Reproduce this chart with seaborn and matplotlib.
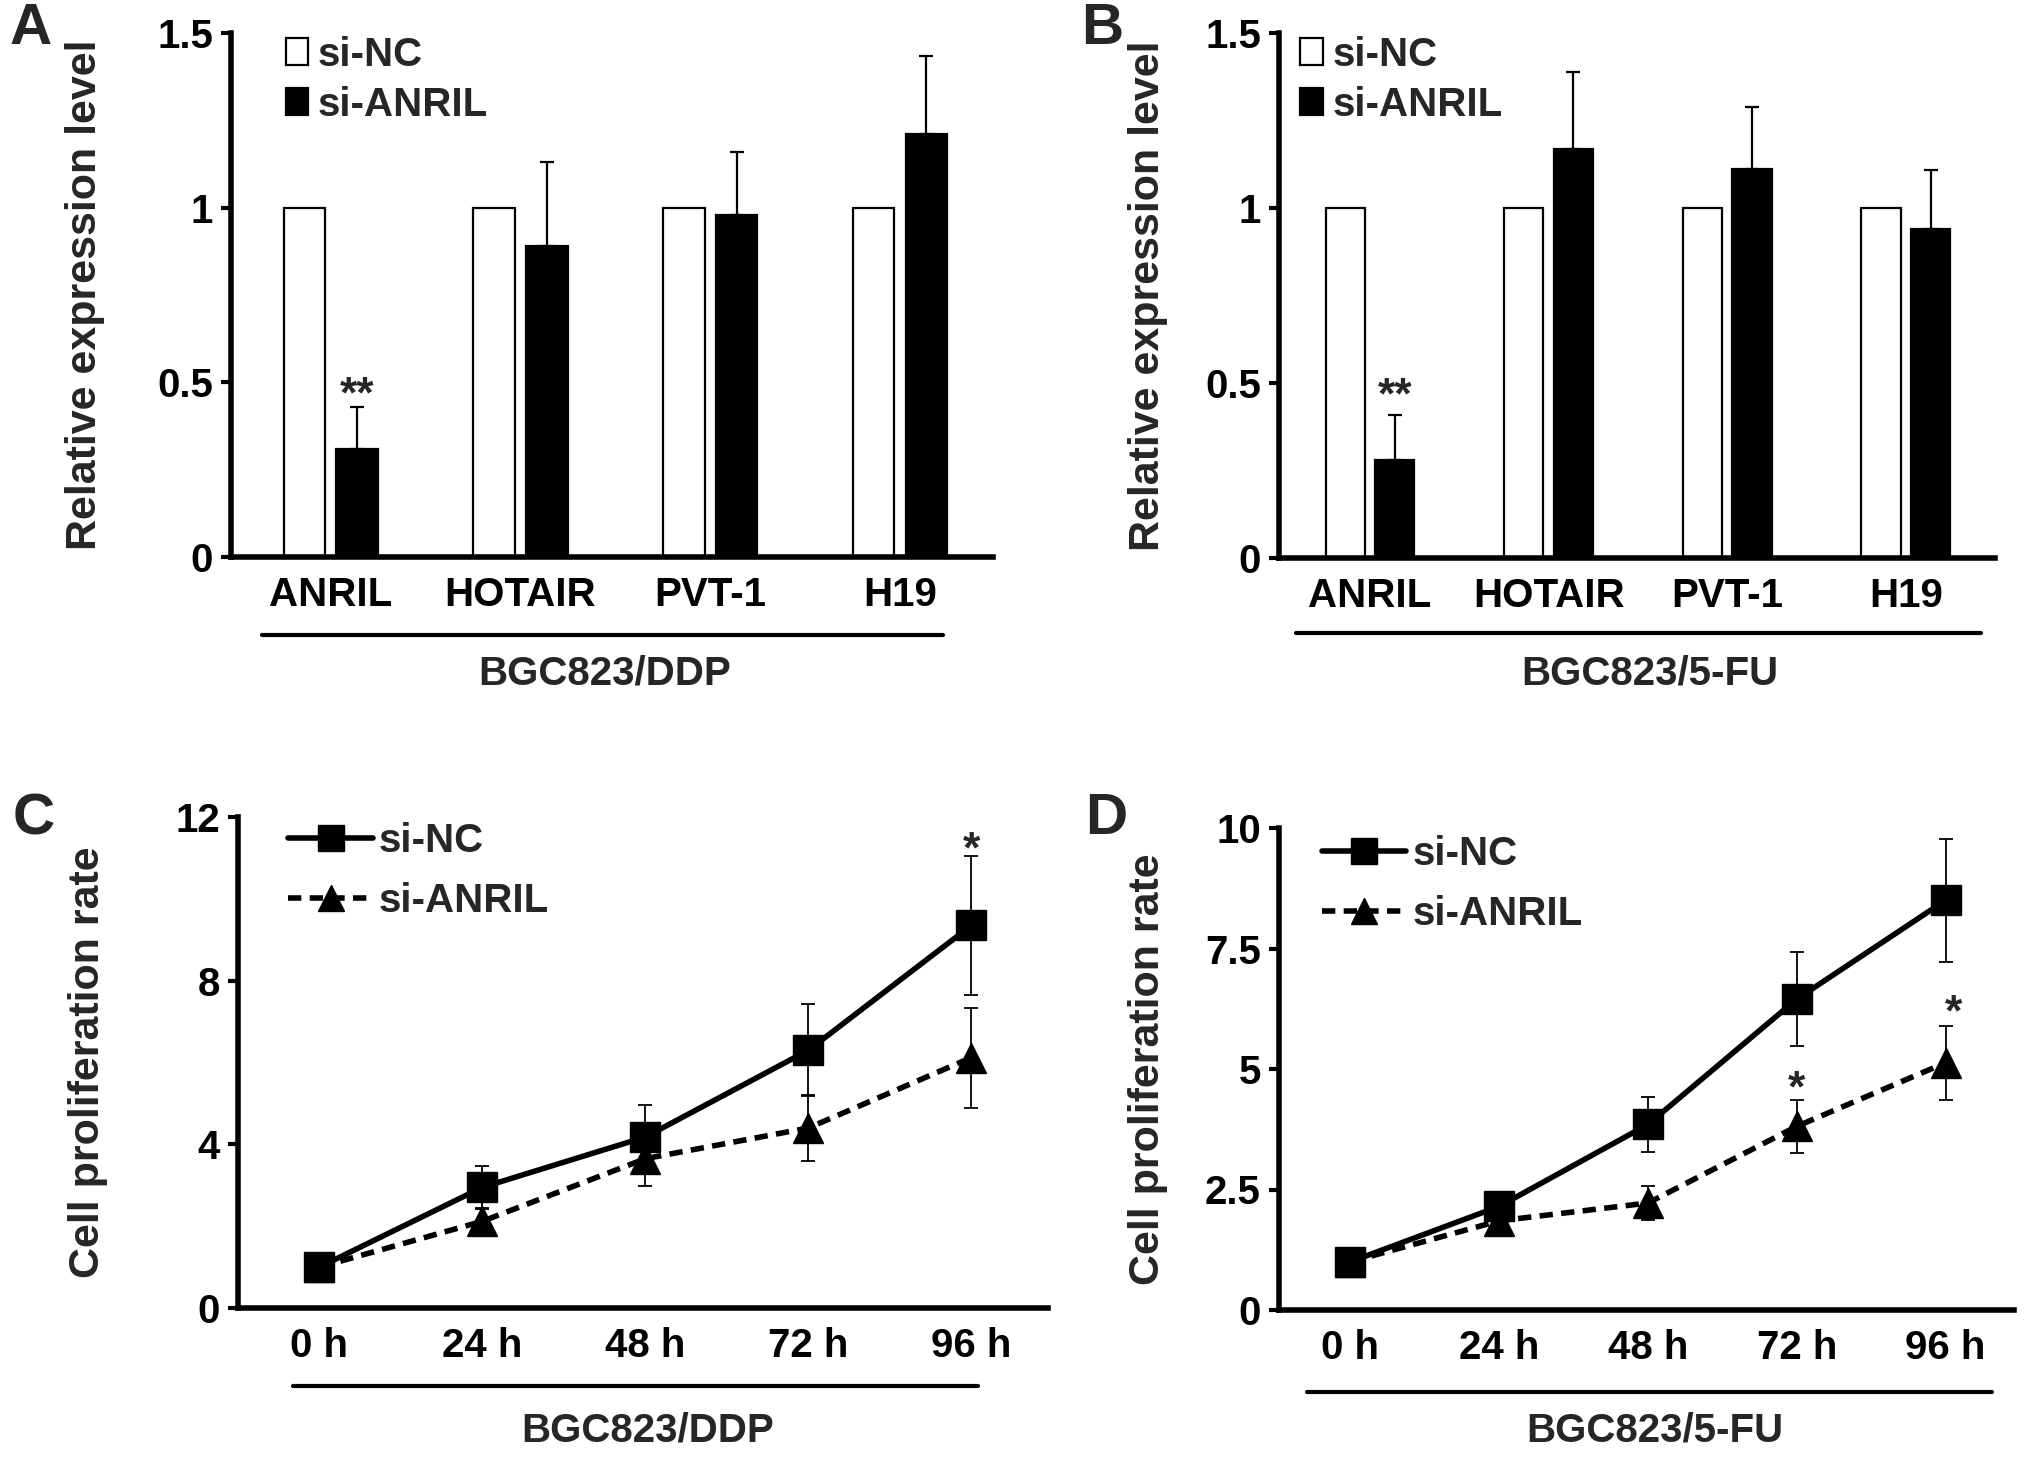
import numpy as np
import pandas as pd
import matplotlib
matplotlib.use("Agg")
import matplotlib.pyplot as plt
import matplotlib.patches as mpatches
from matplotlib.lines import Line2D
import seaborn as sns

# ---------------- data ----------------
genes = ["ANRIL", "HOTAIR", "PVT-1", "H19"]
groups = ["si-NC", "si-ANRIL"]

a_nc = [1.0, 1.0, 1.0, 1.0]
a_si = [0.31, 0.89, 0.98, 1.21]
a_si_err = [0.12, 0.24, 0.18, 0.225]

b_nc = [1.0, 1.0, 1.0, 1.0]
b_si = [0.28, 1.17, 1.11, 0.94]
b_si_err = [0.13, 0.22, 0.18, 0.17]

times = ["0 h", "24 h", "48 h", "72 h", "96 h"]
c_nc = [1.0, 2.95, 4.18, 6.3, 9.35]
c_nc_err = [0.0, 0.52, 0.78, 1.12, 1.7]
c_si = [1.0, 2.12, 3.65, 4.4, 6.12]
c_si_err = [0.0, 0.33, 0.67, 0.8, 1.22]

d_nc = [1.0, 2.15, 3.85, 6.45, 8.5]
d_nc_err = [0.0, 0.15, 0.57, 0.98, 1.28]
d_si = [1.0, 1.85, 2.22, 3.81, 5.13]
d_si_err = [0.0, 0.1, 0.35, 0.55, 0.77]

# ---------------- style ----------------
sns.set_theme(style="ticks")
plt.rcParams["font.family"] = ["Liberation Sans", "DejaVu Sans"]
plt.rcParams["font.weight"] = "bold"
plt.rcParams["axes.labelweight"] = "bold"

W, H = 2031, 1461
fig = plt.figure(figsize=(W / 100, H / 100), dpi=100)


def fx(px):
    return px / W


def fy(py):
    return 1 - py / H


def make_ax(left, right, top, bottom):
    return fig.add_axes([fx(left), fy(bottom), fx(right - left), (bottom - top) / H])


FS = 29
LABEL_FS = 31
SPINE_LW = 4
LINE_LW = 4


def style_axis(ax):
    sns.despine(ax=ax)
    for s in ["left", "bottom"]:
        ax.spines[s].set_linewidth(SPINE_LW)
        ax.spines[s].set_color("black")
    ax.tick_params(axis="y", direction="out", length=7, width=3, labelsize=FS, pad=6,
                   colors="black")
    ax.tick_params(axis="x", length=0, labelsize=FS, pad=14, colors="black")
    ax.set_xlabel("")


bar_pal = {"si-NC": "white", "si-ANRIL": "black"}


def bar_panel(ax, nc, si, si_err, xlim, leg_anchor):
    df = pd.DataFrame({
        "gene": genes * 2,
        "group": ["si-NC"] * len(genes) + ["si-ANRIL"] * len(genes),
        "value": list(nc) + list(si),
    })
    sns.barplot(data=df, x="gene", y="value", hue="group", order=genes, hue_order=groups,
                palette=bar_pal, edgecolor="black", linewidth=1.6, width=0.556, gap=0.21,
                errorbar=None, saturation=1, legend=False, ax=ax)
    cont = ax.containers[1]
    xs = [p.get_x() + p.get_width() / 2 for p in cont]
    ax.errorbar(xs, si, yerr=[np.zeros(len(si)), si_err], fmt="none", ecolor="black",
                elinewidth=1.6, capsize=4.7, capthick=1.6, zorder=3)
    ax.text(xs[0], 0.427, "**", ha="center", va="baseline", fontsize=32, fontweight="bold")
    ax.set_ylim(0, 1.5)
    ax.set_xlim(*xlim)
    ax.set_yticks([0, 0.5, 1, 1.5])
    ax.set_yticklabels(["0", "0.5", "1", "1.5"])
    style_axis(ax)
    ax.set_ylabel("Relative expression level", fontsize=LABEL_FS, fontweight="bold", va="center")
    handles = [mpatches.Patch(facecolor=bar_pal[g], edgecolor="black", linewidth=1.6) for g in groups]
    ax.legend(handles, groups, loc="upper left", bbox_to_anchor=leg_anchor, frameon=False,
              fontsize=FS, handlelength=0.55, handleheight=0.65, handletextpad=0.25,
              labelspacing=0.3, borderpad=0, borderaxespad=0)


def line_panel(ax, nc, nc_err, si, si_err, ylim, yticks, yticklabels, xlim, leg_anchor):
    t = list(range(len(times)))
    df = pd.DataFrame({
        "t": t * 2,
        "group": ["si-NC"] * len(times) + ["si-ANRIL"] * len(times),
        "value": list(nc) + list(si),
    })
    ax.errorbar(t, nc, yerr=nc_err, fmt="none", ecolor="black", elinewidth=1.3,
                capsize=5, capthick=1.3, zorder=1)
    ax.errorbar(t, si, yerr=si_err, fmt="none", ecolor="black", elinewidth=1.3,
                capsize=5, capthick=1.3, zorder=1)
    sns.lineplot(data=df, x="t", y="value", hue="group", style="group",
                 hue_order=groups, style_order=groups,
                 palette={"si-NC": "black", "si-ANRIL": "black"},
                 markers={"si-NC": "s", "si-ANRIL": "^"},
                 dashes={"si-NC": "", "si-ANRIL": (2.4, 1.5)},
                 markersize=22, linewidth=LINE_LW, markeredgecolor="black", markeredgewidth=1,
                 ax=ax, zorder=2)
    leg = ax.get_legend()
    handles, labels = [], []
    for h, txt in zip(leg.legend_handles, leg.get_texts()):
        if txt.get_text() in groups:
            h.set_markersize(19)
            h.set_linewidth(LINE_LW)
            h.set_color("black")
            handles.append(h)
            labels.append(txt.get_text())
    leg.remove()
    ax.legend(handles, labels, loc="upper left", bbox_to_anchor=leg_anchor, frameon=False,
              fontsize=FS, handlelength=2.1, handletextpad=0.15, labelspacing=0.55,
              borderpad=0, borderaxespad=0)
    ax.set_ylim(*ylim)
    ax.set_xlim(*xlim)
    ax.set_yticks(yticks)
    ax.set_yticklabels(yticklabels)
    ax.set_xticks(t)
    ax.set_xticklabels(times)
    style_axis(ax)
    ax.set_ylabel("Cell proliferation rate", fontsize=LABEL_FS, fontweight="bold", va="center")


# ---------------- panels ----------------
axA = make_ax(231, 993, 33, 557)
bar_panel(axA, a_nc, a_si, a_si_err, (-0.526, 3.49), (0.072, 0.995))
axA.yaxis.set_label_coords(-0.192, 0.5)

axB = make_ax(1279, 1995, 33, 558)
bar_panel(axB, b_nc, b_si, b_si_err, (-0.51, 3.5), (0.03, 0.995))
axB.yaxis.set_label_coords(-0.183, 0.5)

axC = make_ax(238, 1048, 817, 1308)
line_panel(axC, c_nc, c_nc_err, c_si, c_si_err, (0, 12), [0, 4, 8, 12],
           ["0", "4", "8", "12"], (-0.5, 4.47), (0.062, 0.99))
axC.text(4, 10.9, "*", ha="center", va="baseline", fontsize=32, fontweight="bold")
axC.yaxis.set_label_coords(-0.185, 0.5)

axD = make_ax(1279, 2014, 828, 1310)
line_panel(axD, d_nc, d_nc_err, d_si, d_si_err, (0, 10), [0, 2.5, 5, 7.5, 10],
           ["0", "2.5", "5", "7.5", "10"], (-0.48, 4.46), (0.058, 0.985))
axD.text(3, 4.32, "*", ha="center", va="baseline", fontsize=32, fontweight="bold")
axD.text(4.05, 5.91, "*", ha="center", va="baseline", fontsize=32, fontweight="bold")
axD.yaxis.set_label_coords(-0.178, 0.5)

# ---------------- group underlines & captions ----------------
for (x0, x1, y, tx, ty, label) in [
    (262, 943, 635, 605, 674, "BGC823/DDP"),
    (1296, 1981, 633, 1650, 674, "BGC823/5-FU"),
    (293, 978, 1386, 648, 1430, "BGC823/DDP"),
    (1307, 1992, 1392, 1655, 1431, "BGC823/5-FU"),
]:
    fig.add_artist(Line2D([fx(x0), fx(x1)], [fy(y), fy(y)], transform=fig.transFigure,
                          color="black", linewidth=3))
    fig.text(fx(tx), fy(ty), label, ha="center", va="center", fontsize=FS, fontweight="bold")

# ---------------- panel letters ----------------
for (x, y, letter) in [(10, 2, "A"), (1081, 2, "B"), (13, 792, "C"), (1085, 792, "D")]:
    fig.text(fx(x), fy(y), letter, ha="left", va="top", fontsize=42, fontweight="bold")

fig.savefig("out.png", dpi=100, facecolor="white")
